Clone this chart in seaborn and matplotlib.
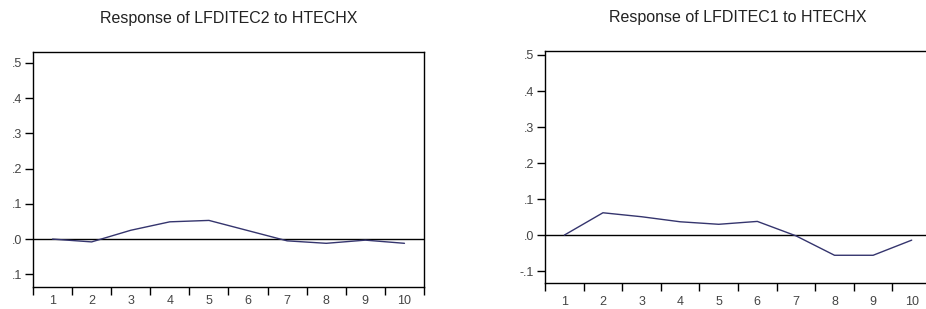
import matplotlib
matplotlib.use("Agg")
import matplotlib.pyplot as plt
import pandas as pd
import seaborn as sns
from matplotlib.ticker import FixedLocator, NullFormatter

periods = [1, 2, 3, 4, 5, 6, 7, 8, 9, 10]
resp_lfditec2 = [0.0, -0.008, 0.025, 0.049, 0.053, 0.024, -0.005, -0.012, -0.003, -0.012]
resp_lfditec1 = [0.0, 0.062, 0.051, 0.037, 0.030, 0.038, -0.002, -0.056, -0.056, -0.014]

titles = ["Response of LFDITEC2 to HTECHX", "Response of LFDITEC1 to HTECHX"]
ytick_vals = [-0.1, 0.0, 0.1, 0.2, 0.3, 0.4, 0.5]
ytick_left = [".1", ".0", ".1", ".2", ".3", ".4", ".5"]
ytick_right = ["-.1", ".0", ".1", ".2", ".3", ".4", ".5"]

sns.set_style("ticks")
plt.rcParams['font.family'] = ['Liberation Sans', 'DejaVu Sans']

fig = plt.figure(figsize=(9.26, 3.09), dpi=100)
ax1 = fig.add_axes([0.0356, 0.0712, 0.4223, 0.7605])
ax2 = fig.add_axes([0.5886, 0.0841, 0.4168, 0.7508])

panels = [
    (ax1, resp_lfditec2, titles[0], ytick_left, (-0.136, 0.531), 5.5),
    (ax2, resp_lfditec1, titles[1], ytick_right, (-0.133, 0.511), 9),
]

for ax, vals, title, ylabels, ylim, xpad in panels:
    df = pd.DataFrame({"period": periods, "value": vals})
    ax.axhline(0, color="black", lw=1.0, zorder=1)
    sns.lineplot(data=df, x="period", y="value", ax=ax, color="#35356e", lw=1.0, zorder=2)
    ax.set_xlim(0.5, 10.5)
    ax.set_ylim(*ylim)
    ax.xaxis.set_major_locator(FixedLocator([p - 0.5 for p in periods] + [10.5]))
    ax.xaxis.set_major_formatter(NullFormatter())
    ax.xaxis.set_minor_locator(FixedLocator(periods))
    ax.set_xticklabels([str(p) for p in periods], minor=True)
    ax.tick_params(axis="x", which="minor", length=0, pad=xpad, labelsize=9, labelcolor="#444444")
    ax.tick_params(axis="x", which="major", length=6, width=1, color="black", direction="out")
    ax.set_yticks(ytick_vals)
    ax.set_yticklabels(ylabels)
    ax.tick_params(axis="y", length=6, width=1, color="black", labelsize=9, labelcolor="#444444", pad=2)
    ax.set_xlabel("")
    ax.set_ylabel("")
    for s in ax.spines.values():
        s.set_linewidth(1.0)
        s.set_color("black")
    ax.set_title(title, fontsize=11.5, color="#222222", pad=21)

fig.savefig("out.png", dpi=100)
plt.close(fig)
